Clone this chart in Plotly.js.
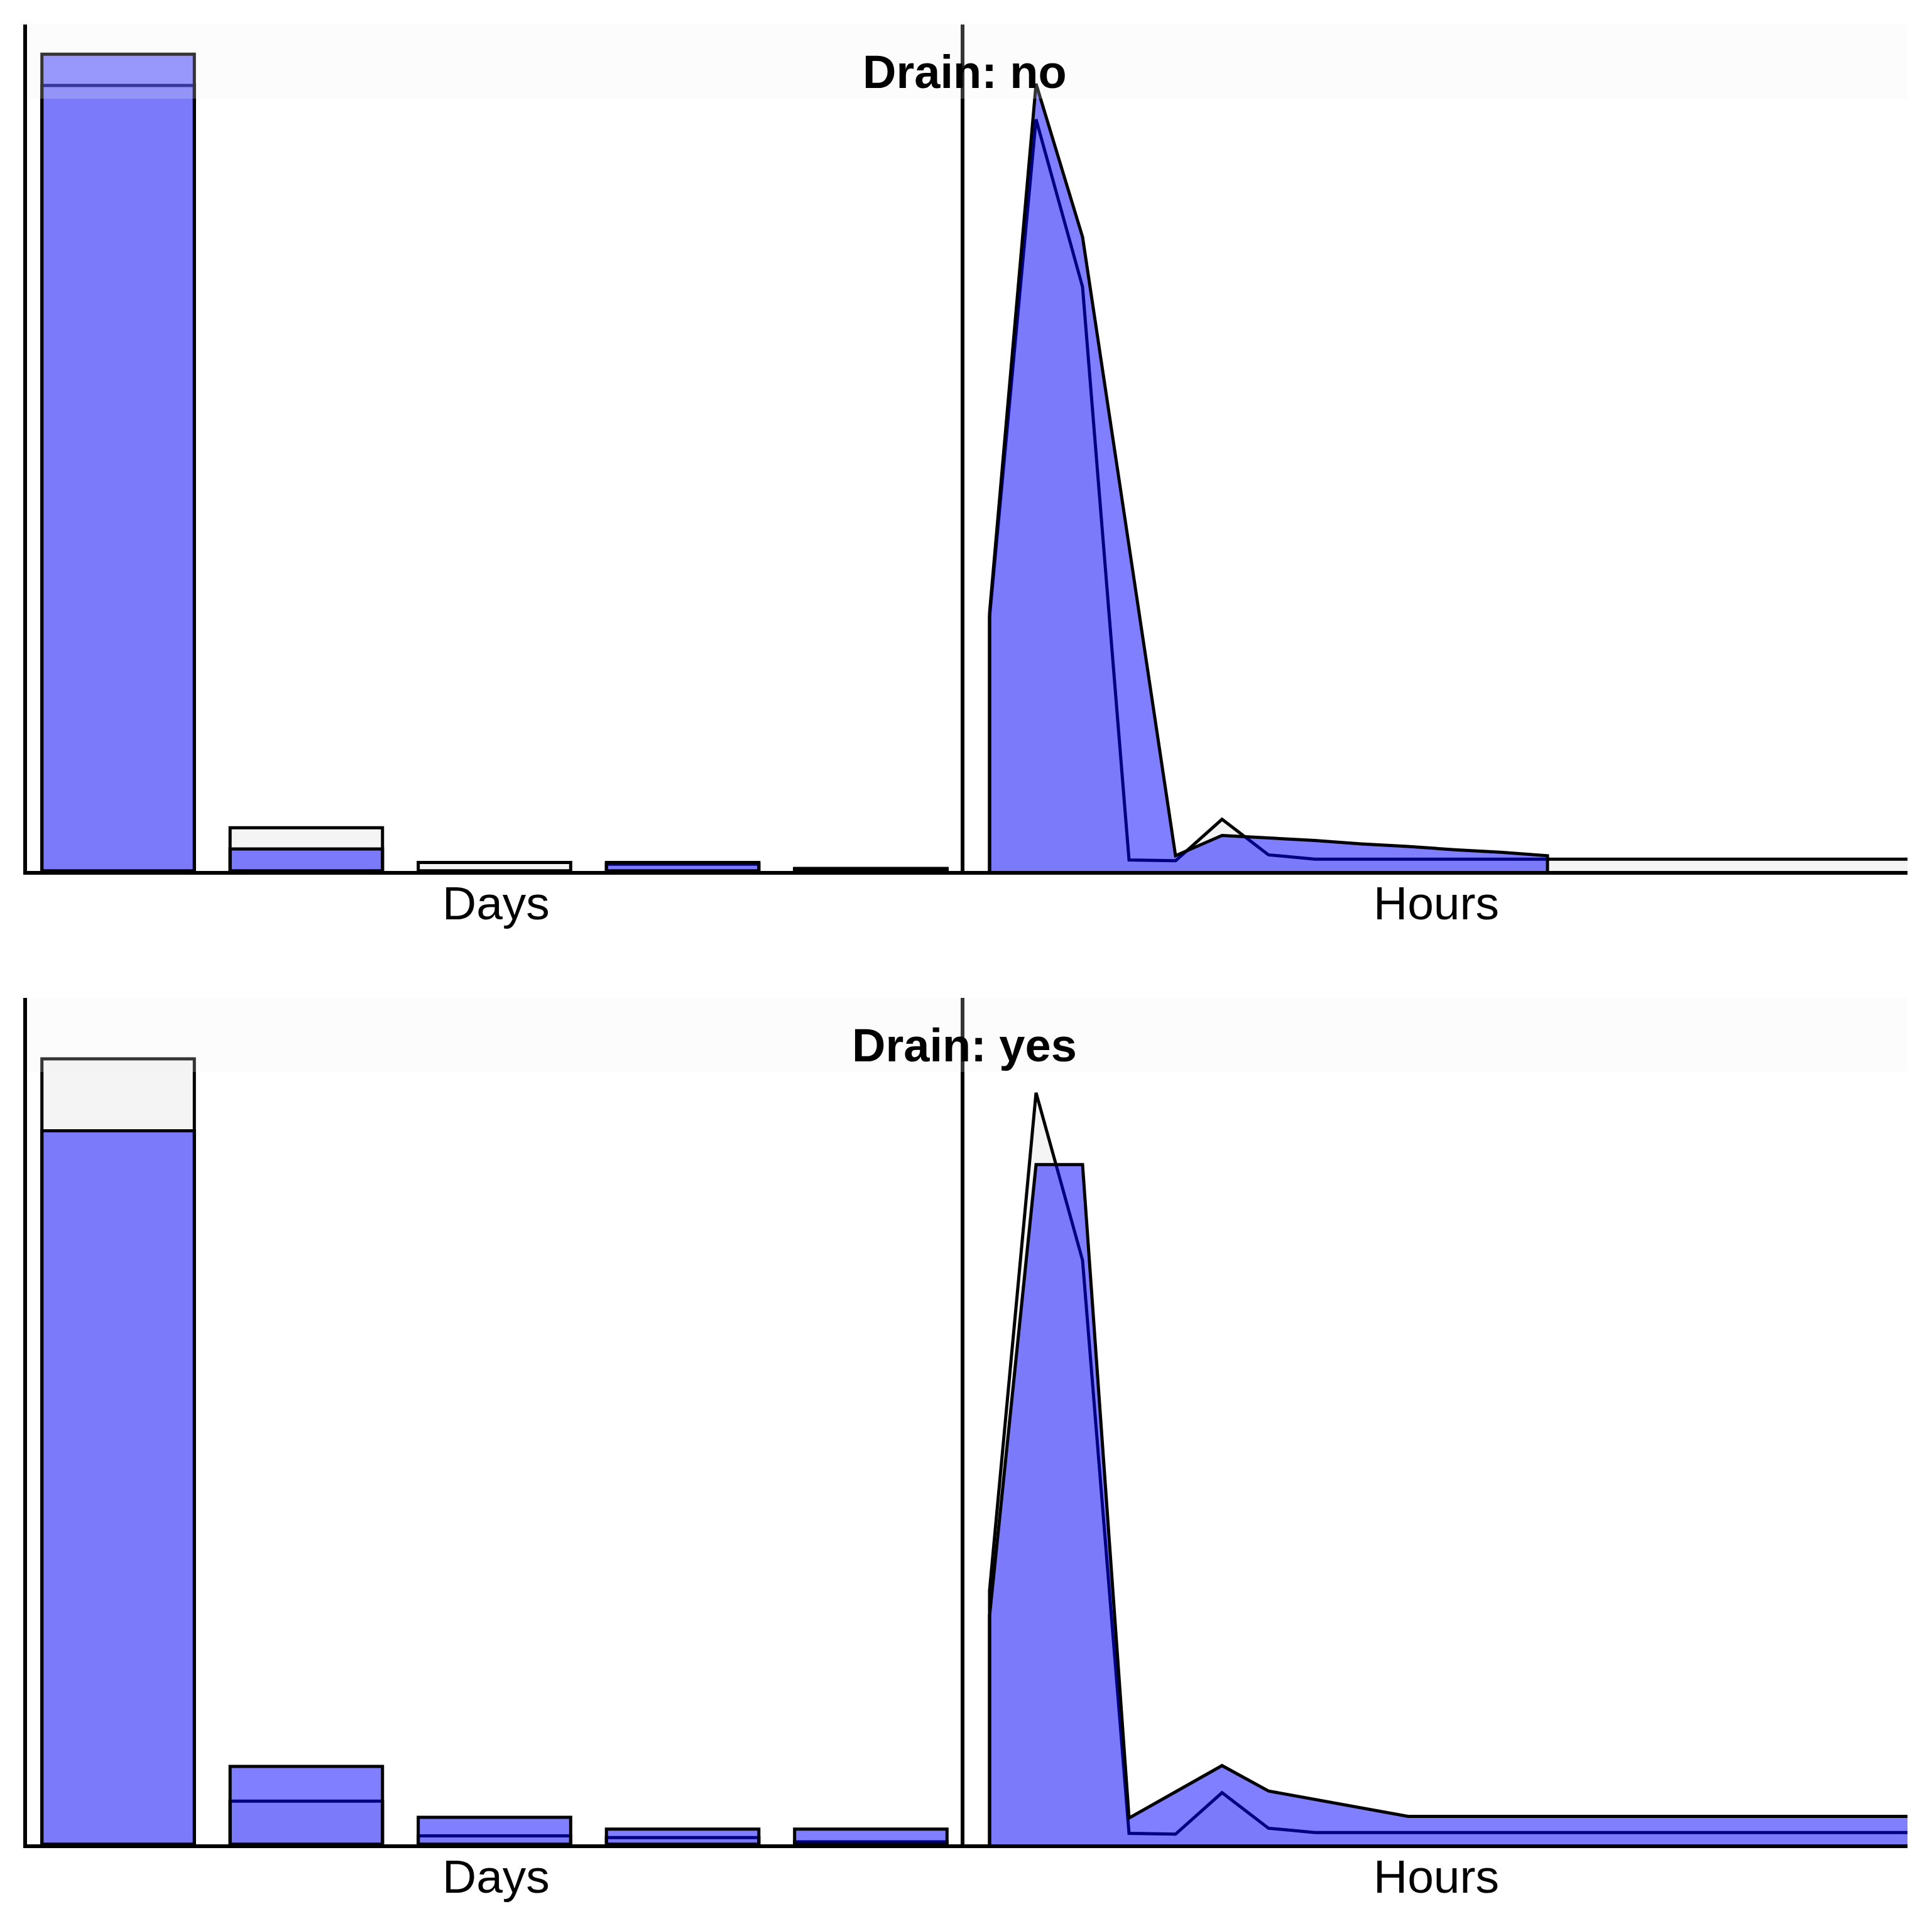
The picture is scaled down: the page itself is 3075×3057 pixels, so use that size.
<!DOCTYPE html>
<html>
<head>
<meta charset="utf-8">
<script src="https://cdn.plot.ly/plotly-3.0.1.min.js"></script>
<style>
  html, body { margin: 0; padding: 0; background: #ffffff; }
  #chart { width: 3075px; height: 3057px; }
</style>
</head>
<body>
<div id="chart"></div>
<script>
// ---------------- DATA (probabilities) ----------------
const panelTitles = ["Drain: no", "Drain: yes"];
const dayStates = [0, 1, 2, 3, 4];
const daysPrior = [0.928, 0.051, 0.010, 0.008, 0.003];
const daysPostNo = [0.965, 0.026, 0.000, 0.010, 0.002];
const daysPostYes = [0.843, 0.092, 0.032, 0.018, 0.018];

const hourStates = [0, 1, 2, 3, 4, 5, 6, 7, 8, 9, 10, 11, 12, 13, 14, 15, 16, 17, 18, 19, 20];
const hoursPrior = [0.30, 0.888, 0.69, 0.013, 0.012, 0.061, 0.019, 0.014, 0.014, 0.014, 0.014,
                    0.014, 0.014, 0.014, 0.014, 0.014, 0.014, 0.014, 0.014, 0.014, 0.014];
const hoursPostNo = [0.305, 0.930, 0.749, 0.384, 0.018, 0.042, 0.039, 0.036, 0.032, 0.029, 0.025,
                     0.022, 0.018];
const hoursPostYes = [0.27, 0.803, 0.803, 0.031, 0.062, 0.093, 0.063, 0.053, 0.043, 0.033, 0.033,
                      0.033, 0.033, 0.033, 0.033, 0.033, 0.033, 0.033, 0.033, 0.033, 0.033];
const axisTitles = ["Days", "Hours"];

// ---------------- STYLE / GEOMETRY ----------------
const W = 3075, H = 3057;
const PRIOR_FILL = "#f4f4f4";
const POST_FILL = "rgba(0,0,255,0.5)";
const OUTLINE = "#000000";
const LW = 5;
const leftX0 = 43, midX = 1535, rightX1 = 3036;
const panels = [{top: 39, bot: 1386}, {top: 1588, bot: 2935}];
const dayC0 = 188, dayStep = 299.5;
const hourX0 = 1575, hourStep = 74;
const px = v => v / W;
const py = v => 1 - v / H;

// closed polygon (vertical edges at both ends) built from the data
function polygon(xs, ys) {
  const n = ys.length;
  const X = [xs[0]].concat(xs.slice(0, n)).concat([xs[n - 1]]);
  const Y = [0].concat(ys).concat([0]);
  return {X, Y};
}

const traces = [];
const layout = {
  width: W, height: H,
  margin: {l: 0, r: 0, t: 0, b: 0},
  paper_bgcolor: "#ffffff",
  plot_bgcolor: "rgba(0,0,0,0)",
  showlegend: false,
  barmode: "overlay",
  font: {family: "Liberation Sans, Arial, sans-serif", color: "#000"},
  shapes: [],
  annotations: []
};

const postDays = [daysPostNo, daysPostYes];
const postHours = [hoursPostNo, hoursPostYes];

panels.forEach((p, i) => {
  const xa = "x" + (2 * i + 1), ya = "y" + (2 * i + 1);
  const xb = "x" + (2 * i + 2), yb = "y" + (2 * i + 2);
  const yDom = [py(p.bot), py(p.top)];

  // Days bars: prior then posterior (overlay)
  traces.push({type: "bar", x: dayStates, y: daysPrior, width: 0.81,
    marker: {color: PRIOR_FILL, line: {color: OUTLINE, width: LW}},
    xaxis: xa, yaxis: ya, hoverinfo: "skip"});
  traces.push({type: "bar", x: dayStates, y: postDays[i], width: 0.81,
    marker: {color: POST_FILL, line: {color: OUTLINE, width: LW}},
    xaxis: xa, yaxis: ya, hoverinfo: "skip"});

  // Hours areas: prior then posterior
  const pr = polygon(hourStates, hoursPrior);
  traces.push({type: "scatter", mode: "lines", x: pr.X, y: pr.Y, fill: "toself",
    fillcolor: PRIOR_FILL, line: {color: OUTLINE, width: LW},
    xaxis: xb, yaxis: yb, hoverinfo: "skip"});
  const po = polygon(hourStates, postHours[i]);
  traces.push({type: "scatter", mode: "lines", x: po.X, y: po.Y, fill: "toself",
    fillcolor: POST_FILL, line: {color: OUTLINE, width: LW},
    xaxis: xb, yaxis: yb, hoverinfo: "skip"});

  const axBase = {showgrid: false, zeroline: false, showticklabels: false, ticks: "",
    showline: true, linecolor: "#000", linewidth: 6, fixedrange: true};

  layout["xaxis" + (2 * i + 1 === 1 ? "" : (2 * i + 1))] = Object.assign({}, axBase, {
    domain: [px(leftX0), px(midX)], anchor: ya,
    range: [(leftX0 - dayC0) / dayStep, (midX - dayC0) / dayStep]});
  layout["yaxis" + (2 * i + 1 === 1 ? "" : (2 * i + 1))] = Object.assign({}, axBase, {
    domain: yDom, anchor: xa, range: [0, 1]});
  layout["xaxis" + (2 * i + 2)] = Object.assign({}, axBase, {
    domain: [px(midX), px(rightX1)], anchor: yb,
    range: [(midX - hourX0) / hourStep, (rightX1 - hourX0) / hourStep]});
  layout["yaxis" + (2 * i + 2)] = Object.assign({}, axBase, {
    domain: yDom, anchor: xb, range: [0, 1]});

  // title band
  layout.shapes.push({type: "rect", xref: "paper", yref: "paper",
    x0: px(leftX0), x1: px(rightX1), y0: py(p.top + 118), y1: py(p.top),
    fillcolor: "rgba(240,240,240,0.22)", line: {width: 0}, layer: "above"});

  // panel title
  layout.annotations.push({text: "<b>" + panelTitles[i] + "</b>", xref: "paper", yref: "paper",
    x: px(midX), y: py(p.top + 76), xanchor: "center", yanchor: "middle", showarrow: false,
    font: {size: 74, family: "Liberation Sans, Arial, sans-serif", color: "#000"}});

  // axis titles
  layout.annotations.push({text: axisTitles[0], xref: "paper", yref: "paper",
    x: px((leftX0 + midX) / 2), y: py(p.bot + 51), xanchor: "center", yanchor: "middle",
    showarrow: false, font: {size: 75, color: "#000"}});
  layout.annotations.push({text: axisTitles[1], xref: "paper", yref: "paper",
    x: px((midX + rightX1) / 2), y: py(p.bot + 51), xanchor: "center", yanchor: "middle",
    showarrow: false, font: {size: 75, color: "#000"}});
});

Plotly.newPlot("chart", traces, layout, {staticPlot: true, displayModeBar: false});
</script>
</body>
</html>
